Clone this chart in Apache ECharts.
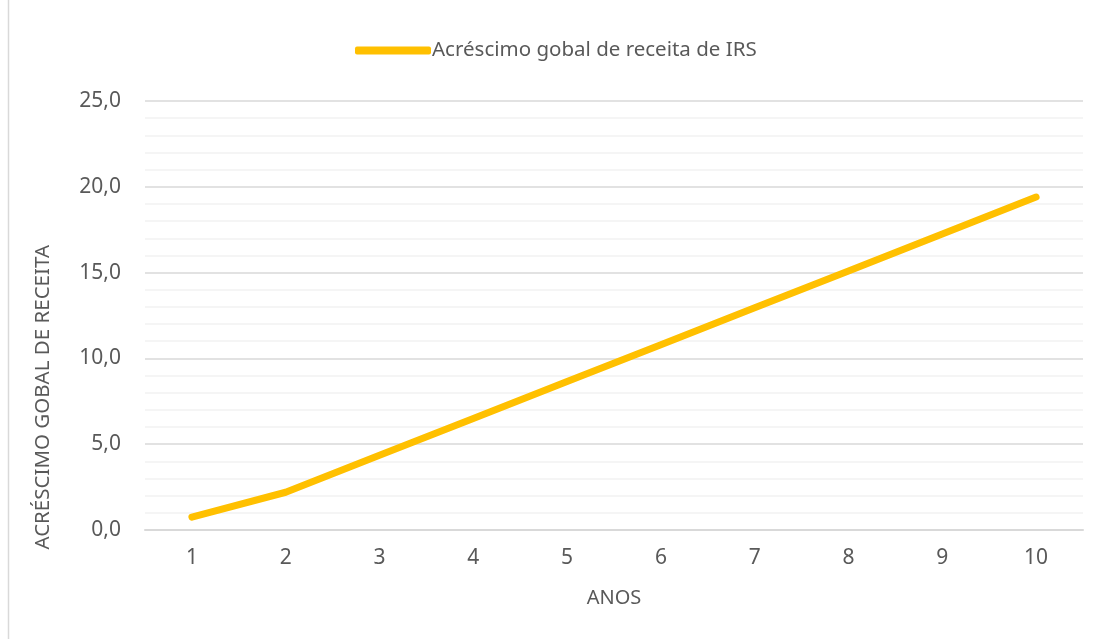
<!DOCTYPE html>
<html>
<head>
<meta charset="utf-8">
<script src="https://cdn.jsdelivr.net/npm/echarts@6/dist/echarts.min.js"></script>
<style>
  html, body { margin: 0; padding: 0; background: #fff; }
  #chart { width: 1101px; height: 639px; }
</style>
</head>
<body>
<div id="chart"></div>
<script>
// anos e valores
const anos = ['1', '2', '3', '4', '5', '6', '7', '8', '9', '10'];
const receita = [0.75, 2.2, 4.35, 6.5, 8.65, 10.8, 12.95, 15.1, 17.25, 19.4];
const serieNome = 'Acréscimo gobal de receita de IRS';

const font = '"Noto Sans", "Open Sans", sans-serif';
const chart = echarts.init(document.getElementById('chart'));

chart.setOption({
  animation: false,
  textStyle: { fontFamily: font },
  // legenda no topo
  legend: {
    top: 35,
    left: 350,
    icon: 'roundRect',
    itemWidth: 76,
    itemHeight: 8,
    textStyle: { fontSize: 20.5, color: '#595959', fontFamily: font, padding: [0, 0, 0, -4] },
    data: [serieNome]
  },
  grid: {
    left: 145,
    right: 18,
    top: 101,
    bottom: 109
  },
  xAxis: {
    type: 'category',
    data: anos,
    boundaryGap: true,
    name: 'ANOS',
    nameLocation: 'middle',
    nameGap: 58,
    nameTextStyle: { fontSize: 20, color: '#595959' },
    axisLine: { lineStyle: { color: '#d9d9d9', width: 2 } },
    axisTick: { show: false },
    axisLabel: { fontSize: 21, color: '#595959', margin: 18 }
  },
  yAxis: {
    type: 'value',
    min: 0,
    max: 25,
    interval: 5,
    axisLine: { show: false },
    axisTick: { show: false },
    axisLabel: {
      fontSize: 21,
      color: '#595959',
      margin: 24,
      formatter: (v) => v.toFixed(1).replace('.', ',')
    },
    splitLine: { lineStyle: { color: '#d9d9d9', width: 1.5 } },
    minorTick: { show: false, splitNumber: 5 },
    minorSplitLine: { show: true, lineStyle: { color: '#f2f2f2', width: 1.5 } }
  },
  graphic: [
    // borda esquerda
    {
      type: 'line',
      shape: { x1: 8.5, y1: 0, x2: 8.5, y2: 639 },
      style: { stroke: '#d9d9d9', lineWidth: 1.5 }
    },
    // título do eixo Y
    {
      type: 'text',
      left: 33,
      top: 245,
      rotation: Math.PI / 2,
      style: {
        text: 'ACRÉSCIMO GOBAL DE RECEITA',
        fontSize: 20.5,
        fontFamily: font,
        fill: '#595959'
      }
    }
  ],
  series: [
    {
      name: serieNome,
      type: 'line',
      data: receita,
      symbol: 'none',
      color: '#FFC000',
      lineStyle: { width: 7, color: '#FFC000', cap: 'round', join: 'round' }
    }
  ]
});
</script>
</body>
</html>
